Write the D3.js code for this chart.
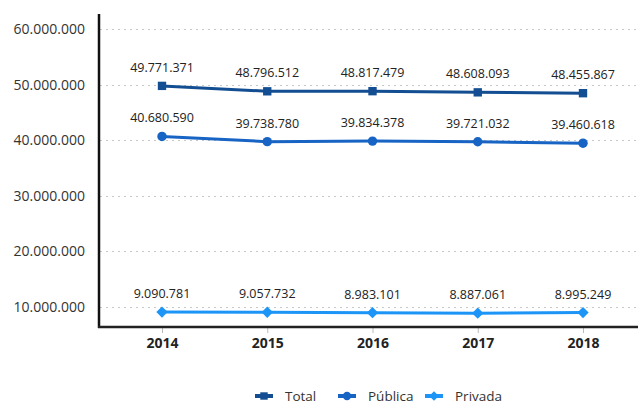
<!DOCTYPE html>
<html>
<head>
<meta charset="utf-8">
<script src="https://cdn.jsdelivr.net/npm/d3@7"></script>
<style>
  body { margin: 0; background: #fff; }
  text { font-family: "Open Sans", "DejaVu Sans", sans-serif; }
</style>
</head>
<body>
<script>
var years = ["2014", "2015", "2016", "2017", "2018"];
var total = [49771371, 48796512, 48817479, 48608093, 48455867];
var publica = [40680590, 39738780, 39834378, 39721032, 39460618];
var privada = [9090781, 9057732, 8983101, 8887061, 8995249];
var yTicks = [10000000, 20000000, 30000000, 40000000, 50000000, 60000000];

var series = [
  {name: "Total", values: total, color: "#124e91", shape: d3.symbolSquare, size: 70, rot: 0},
  {name: "Pública", values: publica, color: "#1764c4", shape: d3.symbolCircle, size: 70, rot: 0},
  {name: "Privada", values: privada, color: "#1c95f7", shape: d3.symbolSquare, size: 64, rot: 45}
];

var width = 638, height = 403;
var plotLeft = 100, plotTop = 14, plotBottom = 327, plotRight = 638;

var fmt = function(v){ return d3.format(",")(v).replace(/,/g, "."); };

var svg = d3.select("body").append("svg")
  .attr("width", width)
  .attr("height", height);

var x = d3.scalePoint()
  .domain(years)
  .range([162, 583]);

var y = d3.scaleLinear()
  .domain([6400000, 62700000])
  .range([plotBottom, plotTop]);

// gridlines
svg.append("g")
  .selectAll("line")
  .data(yTicks)
  .enter()
  .append("line")
  .attr("x1", plotLeft)
  .attr("x2", plotRight)
  .attr("y1", function(d){ return Math.round(y(d)) + 0.5; })
  .attr("y2", function(d){ return Math.round(y(d)) + 0.5; })
  .attr("stroke", "#c8c8c8")
  .attr("stroke-dasharray", "2,4");

// y axis
var yAxis = svg.append("g")
  .attr("transform", "translate(" + plotLeft + ",0)")
  .call(d3.axisLeft(y).tickValues(yTicks).tickSize(0).tickPadding(15).tickFormat(fmt));
yAxis.select(".domain").remove();
yAxis.selectAll("text")
  .attr("fill", "#333")
  .style("font-size", "14px");

svg.append("line")
  .attr("x1", plotLeft - 1).attr("x2", plotLeft - 1)
  .attr("y1", plotTop).attr("y2", plotBottom + 1)
  .attr("stroke", "#111").attr("stroke-width", 2.5);

// x axis
var xAxis = svg.append("g")
  .attr("transform", "translate(0," + plotBottom + ")")
  .call(d3.axisBottom(x).tickSize(6).tickPadding(5));
xAxis.select(".domain").remove();
xAxis.selectAll("line").attr("stroke", "#bbb");
xAxis.selectAll("text")
  .attr("fill", "#222")
  .style("font-size", "14px")
  .style("font-weight", "bold");

svg.append("line")
  .attr("x1", plotLeft - 2).attr("x2", plotRight)
  .attr("y1", plotBottom).attr("y2", plotBottom)
  .attr("stroke", "#222").attr("stroke-width", 2.5);

var line = d3.line()
  .x(function(d, i){ return x(years[i]); })
  .y(function(d){ return y(d); });

series.forEach(function(s){
  var g = svg.append("g");
  g.append("path")
    .datum(s.values)
    .attr("d", line)
    .attr("fill", "none")
    .attr("stroke", s.color)
    .attr("stroke-width", 3);
  g.selectAll("path.mk")
    .data(s.values)
    .enter()
    .append("path")
    .attr("class", "mk")
    .attr("d", d3.symbol().type(s.shape).size(s.size))
    .attr("transform", function(d, i){ return "translate(" + x(years[i]) + "," + y(d) + ") rotate(" + s.rot + ")"; })
    .attr("fill", s.color);
  g.selectAll("text")
    .data(s.values)
    .enter()
    .append("text")
    .attr("x", function(d, i){ return x(years[i]); })
    .attr("y", function(d){ return y(d) - 14; })
    .attr("text-anchor", "middle")
    .attr("fill", "#222")
    .style("font-size", "12.5px")
    .text(fmt);
});

// legend
var legendX = [255, 338, 425];
var leg = svg.append("g");
series.forEach(function(s, i){
  var lg = leg.append("g").attr("transform", "translate(" + legendX[i] + ",396)");
  lg.append("line")
    .attr("x1", 0).attr("x2", 18)
    .attr("stroke", s.color).attr("stroke-width", 4);
  lg.append("path")
    .attr("d", d3.symbol().type(s.shape).size(s.rot ? 45 : 55))
    .attr("transform", "translate(9,0) rotate(" + s.rot + ")")
    .attr("fill", s.color);
  lg.append("text")
    .attr("x", 30)
    .attr("y", 5)
    .attr("fill", "#333")
    .style("font-size", "13.5px")
    .text(s.name);
});
</script>
</body>
</html>
